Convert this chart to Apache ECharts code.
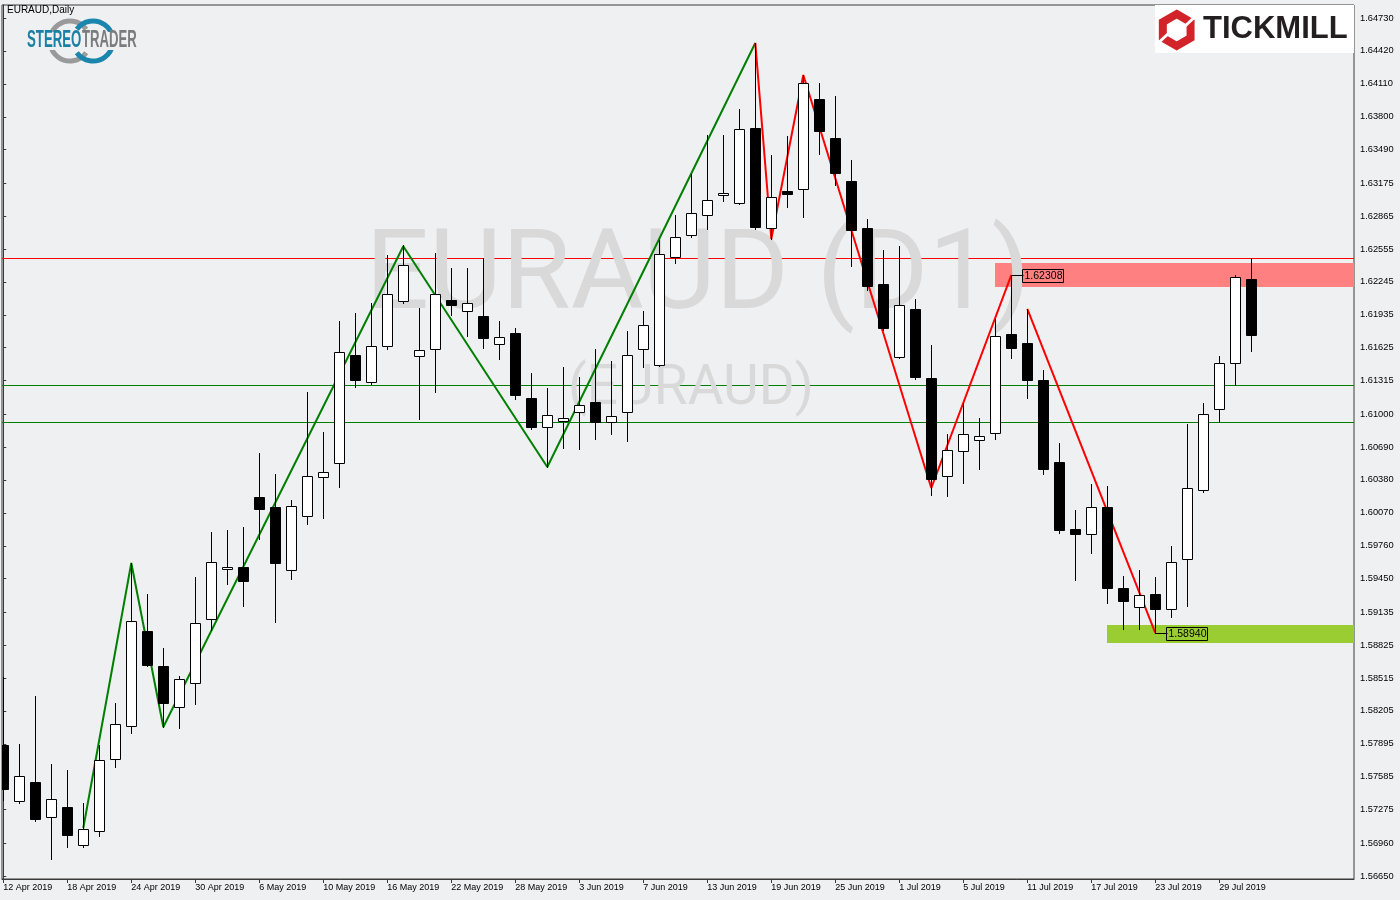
<!DOCTYPE html>
<html><head><meta charset="utf-8">
<script src="https://cdn.jsdelivr.net/npm/echarts@6/dist/echarts.min.js"></script>
<style>html,body{margin:0;padding:0;background:#eff0f2;}#c{width:1400px;height:900px;}</style>
</head><body><div id="c"></div>
<script>
// ---- data ----
const tickLabels = ['12 Apr 2019','18 Apr 2019','24 Apr 2019','30 Apr 2019','6 May 2019','10 May 2019','16 May 2019','22 May 2019','28 May 2019','3 Jun 2019','7 Jun 2019','13 Jun 2019','19 Jun 2019','25 Jun 2019','1 Jul 2019','5 Jul 2019','11 Jul 2019','17 Jul 2019','23 Jul 2019','29 Jul 2019'];
const tickIndex = [0,4,8,12,16,20,24,28,32,36,40,44,48,52,56,60,64,68,72,76];
const priceTicks = [1.64730,1.64420,1.64110,1.63800,1.63490,1.63175,1.62865,1.62555,1.62245,1.61935,1.61625,1.61315,1.61000,1.60690,1.60380,1.60070,1.59760,1.59450,1.59135,1.58825,1.58515,1.58205,1.57895,1.57585,1.57275,1.56960,1.56650];
// [open, high, low, close] per daily bar
const candles = [
[1.57884,1.58524,1.57366,1.57469],[1.57356,1.57893,1.57338,1.57592],[1.57535,1.58345,1.57168,1.57187],[1.57206,1.57705,1.56810,1.57375],
[1.57300,1.57648,1.56923,1.57036],[1.56942,1.57338,1.56923,1.57093],[1.57074,1.57884,1.57027,1.57742],[1.57752,1.58279,1.57677,1.58081],
[1.58063,1.59598,1.57997,1.59051],[1.58957,1.59306,1.58628,1.58637],[1.58628,1.58797,1.58053,1.58279],[1.58242,1.58534,1.58044,1.58505],
[1.58468,1.59466,1.58270,1.59033],[1.59070,1.59890,1.58967,1.59607],[1.59541,1.59908,1.59400,1.59560],[1.59560,1.59937,1.59193,1.59428],
[1.60219,1.60634,1.59824,1.60106],[1.60125,1.60436,1.59042,1.59598],[1.59532,1.60191,1.59447,1.60134],[1.60040,1.61208,1.59965,1.60417],
[1.60408,1.60831,1.60021,1.60455],[1.60539,1.61877,1.60313,1.61585],[1.61556,1.61952,1.61255,1.61321],[1.61302,1.62046,1.61283,1.61641],
[1.61641,1.62498,1.61613,1.62131],[1.62065,1.62592,1.62046,1.62404],[1.61547,1.61999,1.60954,1.61603],[1.61613,1.62517,1.61208,1.62131],
[1.62074,1.62376,1.61933,1.62027],[1.61971,1.62376,1.61735,1.62046],[1.61924,1.62470,1.61622,1.61717],[1.61660,1.61877,1.61519,1.61726],
[1.61764,1.61811,1.61142,1.61180],[1.61151,1.61387,1.60860,1.60878],[1.60878,1.61246,1.60502,1.60991],[1.60935,1.61443,1.60681,1.60963],
[1.61020,1.61349,1.60671,1.61086],[1.61114,1.61613,1.60765,1.60925],[1.60925,1.61500,1.60812,1.60982],[1.61020,1.61782,1.60747,1.61556],
[1.61613,1.61971,1.61443,1.61839],[1.61462,1.62639,1.61453,1.62508],[1.62479,1.62875,1.62423,1.62668],[1.62686,1.63261,1.62668,1.62894],
[1.62875,1.63628,1.62743,1.63016],[1.63063,1.63628,1.63007,1.63082],[1.62988,1.63873,1.62978,1.63685],[1.63694,1.64495,1.62743,1.62762],
[1.62752,1.63440,1.62649,1.63044],[1.63101,1.63619,1.62950,1.63073],[1.63120,1.64193,1.62856,1.64118],[1.63967,1.64118,1.63449,1.63666],
[1.63600,1.63995,1.63157,1.63270],[1.63195,1.63393,1.62395,1.62734],[1.62752,1.62837,1.62169,1.62206],[1.62225,1.62545,1.61792,1.61811],
[1.61538,1.62583,1.61528,1.62027],[1.61990,1.62084,1.61330,1.61349],[1.61340,1.61651,1.60238,1.60389],[1.60417,1.60812,1.60229,1.60662],
[1.60652,1.61104,1.60351,1.60812],[1.60756,1.60963,1.60483,1.60794],[1.60822,1.61895,1.60765,1.61735],[1.61754,1.62308,1.61528,1.61622],
[1.61669,1.61990,1.61151,1.61321],[1.61321,1.61415,1.60436,1.60483],[1.60549,1.60728,1.59880,1.59908],[1.59918,1.60097,1.59438,1.59871],
[1.59871,1.60342,1.59692,1.60125],[1.60125,1.60323,1.59221,1.59362],[1.59362,1.59475,1.58972,1.59240],[1.59183,1.59532,1.58972,1.59296],
[1.59306,1.59466,1.58940,1.59164],[1.59164,1.59758,1.59089,1.59607],[1.59635,1.60907,1.59193,1.60304],[1.60285,1.61104,1.60266,1.61000],
[1.61048,1.61547,1.60925,1.61481],[1.61481,1.62310,1.61274,1.62291],[1.62272,1.62470,1.61594,1.61745]
];
const zigGreen = [[5,1.57102],[8,1.59598],[10,1.58053],[25,1.62580],[34,1.60502],[47,1.64495]];
const zigRedA = [[47,1.64495],[48,1.62649],[50,1.64193],[58,1.60304],[63,1.62308]];
const zigRedB = [[64,1.61990],[72,1.58940]];
const levelLines = [1.62470, 1.61274, 1.60926];
const zones = [[62,1.62423,1.62197],[69,1.59014,1.58844]];
const priceTags = [[63,1.62308],[72,1.58940]];

// ---- styles ----
const levelColors = ['#ff0000','#008000','#008000'];
const zoneColors = ['#ff8080','#9acd32'];
const AXFONT = '"Liberation Sans", Arial, sans-serif';

const chart = echarts.init(document.getElementById('c'), null, {renderer:'canvas'});

function renderCandle(params, api){
  const k = api.value(0), o = api.value(1), h = api.value(2), l = api.value(3), c = api.value(4);
  const po = api.coord([k,o]), pc = api.coord([k,c]), ph = api.coord([k,h]), pl = api.coord([k,l]);
  const cx = Math.round(po[0]) + 0.5;
  const yT = Math.round(Math.min(po[1],pc[1])) + 0.5;
  const yB = Math.round(Math.max(po[1],pc[1])) + 0.5;
  const bull = c >= o;
  return {type:'group', children:[
    {type:'line', shape:{x1:cx,y1:Math.round(ph[1]),x2:cx,y2:Math.round(pl[1])+1}, style:{stroke:'#000',lineWidth:1}},
    {type:'rect', shape:{x:cx-5,y:yT,width:10,height:Math.max(yB-yT,0)}, style:{fill:bull?'#fff':'#000',stroke:'#000',lineWidth:1}}
  ]};
}
function renderZone(params, api){
  const p1 = api.coord([api.value(0), api.value(1)]);
  const p2 = api.coord([api.value(0), api.value(2)]);
  const cs = params.coordSys;
  const x = Math.round(p1[0]);
  const y1 = Math.round(p1[1]), y2 = Math.round(p2[1]);
  return {type:'rect', shape:{x:x,y:y1,width:cs.x+cs.width-x,height:y2-y1}, style:{fill:zoneColors[params.dataIndex]}};
}
function renderLevel(params, api){
  const p = api.coord([0, api.value(1)]);
  const cs = params.coordSys;
  const y = Math.round(p[1]) + 0.5;
  return {type:'line', shape:{x1:cs.x,y1:y,x2:cs.x+cs.width,y2:y}, style:{stroke:levelColors[params.dataIndex],lineWidth:1}};
}
function renderTag(params, api){
  const v = api.value(1);
  const p = api.coord([api.value(0), v]);
  const cx = Math.round(p[0]) + 0.5, cy = Math.round(p[1]) + 0.5;
  return {type:'group', children:[
    {type:'line', shape:{x1:cx,y1:cy,x2:cx+12,y2:cy}, style:{stroke:'#000',lineWidth:1}},
    {type:'rect', shape:{x:cx+11,y:cy-6,width:41,height:13}, style:{fill:'none',stroke:'#000',lineWidth:1}},
    {type:'text', style:{text:v.toFixed(5), x:cx+32, y:cy+1, textAlign:'center', textVerticalAlign:'middle', font:'10.5px '+AXFONT, fill:'#000'}}
  ]};
}

const hx = 1176.7, hy = 30, hr = 16;
const hexPts = [];
for (let i=0;i<6;i++){ const a = (-90 + 60*i)*Math.PI/180; hexPts.push([hx+hr*Math.cos(a), hy+hr*Math.sin(a)]); }

const option = {
  backgroundColor:'#eff0f2',
  animation:false,
  grid:{left:2, top:5, width:1352, height:874, show:true, borderColor:'#3a3a3a', borderWidth:1, backgroundColor:'transparent'},
  xAxis:{type:'value', min:-0.08125, max:84.41875, position:'bottom',
    axisLine:{show:true, onZero:false, lineStyle:{color:'#3a3a3a'}},
    axisTick:{show:true, customValues:tickIndex, length:4, lineStyle:{color:'#3a3a3a'}},
    axisLabel:{customValues:tickIndex, formatter:v=>tickLabels[tickIndex.indexOf(Math.round(v))]||'', align:'left', margin:4, fontSize:9, fontFamily:AXFONT, color:'#000'},
    splitLine:{show:false}},
  yAxis:{type:'value', position:'right', min:1.5662175, max:1.6485242, scale:true,
    axisLine:{show:true, lineStyle:{color:'#3a3a3a'}},
    axisTick:{show:true, customValues:priceTicks, length:3, lineStyle:{color:'#3a3a3a'}},
    axisLabel:{customValues:priceTicks, formatter:v=>Number(v).toFixed(5), margin:6, fontSize:9.3, fontFamily:AXFONT, color:'#000'},
    splitLine:{show:false}},
  graphic:[
    {type:'text', z:3, style:{text:'EURAUD (D1)', x:698, y:280, textAlign:'center', textVerticalAlign:'middle', font:'112px Roboto', fill:'#d9d9d9'}},
    {type:'text', z:3, style:{text:'(EURAUD)', x:691, y:390, textAlign:'center', textVerticalAlign:'middle', font:'55px Roboto', fill:'#d9d9d9'}},
    {type:'text', z:10, style:{text:'EURAUD,Daily', x:7, y:10, textVerticalAlign:'middle', font:'10px '+AXFONT, fill:'#000'}},
    // StereoTrader logo
    {type:'arc', z:10, shape:{cx:70, cy:41, r:20, startAngle:Math.PI*1.05, endAngle:Math.PI*1.8}, style:{stroke:'#9a9a9a', lineWidth:5, fill:'none'}},
    {type:'arc', z:10, shape:{cx:70, cy:41, r:20, startAngle:Math.PI*0.2, endAngle:Math.PI*0.95}, style:{stroke:'#9a9a9a', lineWidth:5, fill:'none'}},
    {type:'arc', z:10, shape:{cx:93, cy:41, r:20, startAngle:Math.PI*1.2, endAngle:Math.PI*1.95}, style:{stroke:'#1b86ad', lineWidth:5, fill:'none'}},
    {type:'arc', z:10, shape:{cx:93, cy:41, r:20, startAngle:Math.PI*0.05, endAngle:Math.PI*0.8}, style:{stroke:'#1b86ad', lineWidth:5, fill:'none'}},
    {type:'rect', z:10, shape:{x:26, y:32, width:114, height:18}, style:{fill:'#eff0f2'}},
    {type:'text', z:11, x:27, y:41, scaleX:0.575, style:{text:'STEREO', x:0, y:0, textVerticalAlign:'middle', font:'bold 23px '+AXFONT, fill:'#1b7fa6'}},
    {type:'text', z:11, x:82, y:41, scaleX:0.57, style:{text:'TRADER', x:0, y:0, textVerticalAlign:'middle', font:'bold 23px '+AXFONT, fill:'#7a7c7e'}},
    // Tickmill logo
    {type:'rect', z:10, shape:{x:1155, y:5, width:199, height:48}, style:{fill:'#ffffff'}},
    {type:'polygon', z:11, shape:{points:hexPts}, style:{fill:'none', stroke:'#d2232a', lineWidth:8, lineJoin:'miter'}},
    {type:'line', z:12, shape:{x1:1184, y1:27, x2:1198, y2:14}, style:{stroke:'#ffffff', lineWidth:3}},
    {type:'line', z:12, shape:{x1:1169, y1:33, x2:1155, y2:46}, style:{stroke:'#ffffff', lineWidth:3}},
    {type:'text', z:11, style:{text:'TICKMILL', x:1203, y:29, textVerticalAlign:'middle', font:'bold 31px '+AXFONT, fill:'#231f20'}}
  ],
  series:[
    {type:'custom', name:'zones', z:1, renderItem:renderZone, clip:true, data:zones, encode:{x:0,y:[1,2]}},
    {type:'custom', name:'levels', z:2, renderItem:renderLevel, clip:true, data:levelLines.map(v=>[0,v]), encode:{x:0,y:1}},
    {type:'line', name:'zigzag up', z:4, data:zigGreen, symbol:'none', lineStyle:{color:'#008000', width:2}, silent:true},
    {type:'line', name:'zigzag down A', z:4, data:zigRedA, symbol:'none', lineStyle:{color:'#ff0000', width:2}, silent:true},
    {type:'line', name:'zigzag down B', z:4, data:zigRedB, symbol:'none', lineStyle:{color:'#ff0000', width:2}, silent:true},
    {type:'custom', name:'EURAUD', z:5, renderItem:renderCandle, clip:true, data:candles.map((c,i)=>[i,c[0],c[1],c[2],c[3]]), encode:{x:0,y:[1,2,3,4]}},
    {type:'custom', name:'tags', z:6, renderItem:renderTag, data:priceTags, encode:{x:0,y:1}}
  ]
};
chart.setOption(option);
</script></body></html>
